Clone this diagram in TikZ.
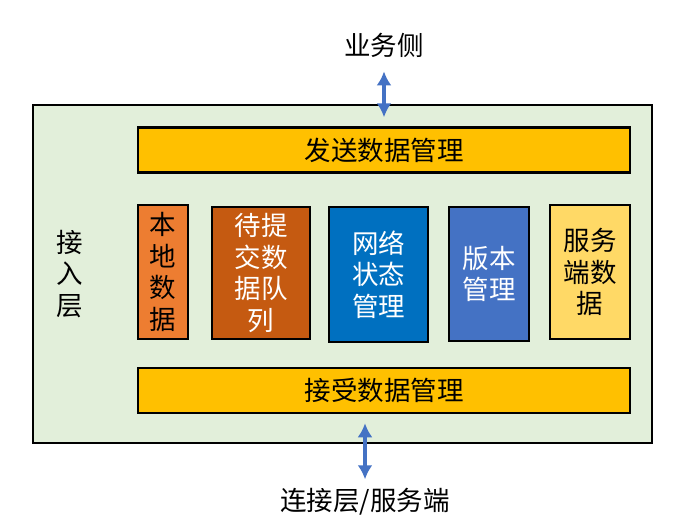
\documentclass[tikz,border=0pt]{standalone}
\usepackage{fontspec}
\setmainfont{Noto Sans CJK SC}
\definecolor{lygreen}{RGB}{226,239,218}
\definecolor{lygold}{RGB}{255,192,0}
\definecolor{lyorange}{RGB}{237,125,49}
\definecolor{lyrust}{RGB}{197,90,17}
\definecolor{lyblue}{RGB}{0,112,192}
\definecolor{lysteel}{RGB}{68,114,196}
\definecolor{lysand}{RGB}{255,217,102}
\usetikzlibrary{arrows.meta,positioning}

\begin{document}
\begin{tikzpicture}[x=1pt,y=-1pt,
  bigtext/.style={font=\fontsize{26.5}{31.5}\selectfont},
  bar/.style={draw,line width=2.5pt,fill=lygold,minimum width=492pt,minimum height=45pt,bigtext},
  col/.style={draw,line width=2.5pt,align=center,inner sep=0pt,bigtext},
  link/.style={lysteel,line width=4.5pt,{Latex[length=14pt,width=15pt]}-{Latex[length=14pt,width=15pt]}}]
  \useasboundingbox (0,0) rectangle (695,530);
  \node[draw,line width=2pt,fill=lygreen,minimum width=619pt,minimum height=338pt] (layer) at (342.5,274) {};
  \node[bar] (send) at (384,150) {发送数据管理};
  \node[bar] (recv) at (384,390.5) {接受数据管理};
  \node[col,fill=lyorange,minimum width=50pt,minimum height=134pt] (local) at (163,272) {本\\地\\数\\据};
  \node[col,fill=lyrust,text=white,minimum width=98pt,minimum height=132pt] (queue) at (261,273) {待提\\交数\\据队\\列};
  \node[col,fill=lyblue,text=white,minimum width=99pt,minimum height=135pt] (net) at (378.5,274.5) {网络\\状态\\管理};
  \node[col,fill=lysteel,text=white,minimum width=80pt,minimum height=134pt] (ver) at (489,274) {版本\\管理};
  \node[col,fill=lysand,minimum width=80pt,minimum height=134pt] (srv) at (590,272) {服务\\端数\\据};
  \node[bigtext,align=center,inner sep=0pt] (side) at (70,274) {接\\入\\层};
  \node[bigtext,inner sep=0pt] (biz) at (384,45) {业务侧};
  \node[bigtext,inner sep=0pt] (conn) at (365,502) {连接层/服务端};
  \draw[link,shorten <=14pt,shorten >=9pt] (biz.south) -- (biz.south |- send.north);
  \draw[link,shorten <=9pt,shorten >=9pt] (conn.north |- recv.south) -- (conn.north);
\end{tikzpicture}
\end{document}
